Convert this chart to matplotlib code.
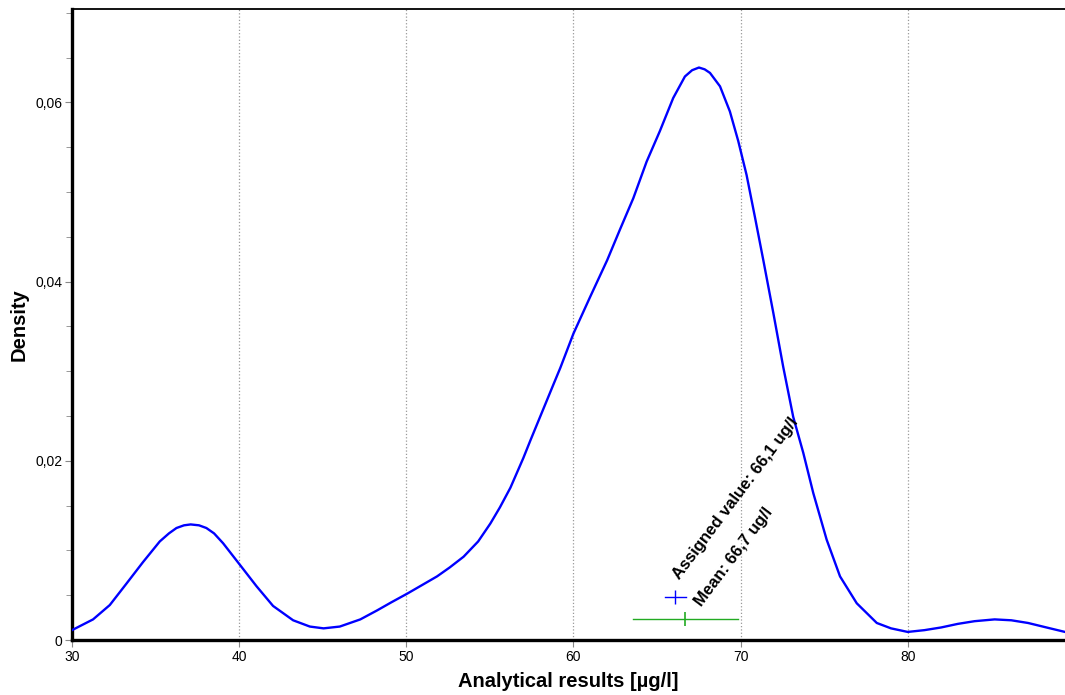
import matplotlib.pyplot as plt
from matplotlib.ticker import FixedLocator, MultipleLocator, FuncFormatter

plt.rcParams['font.family'] = ['Liberation Sans', 'DejaVu Sans']

# density curve
x_vals = [30, 31.26, 32.26, 33.26, 34.25, 35.25, 35.8, 36.25, 36.7, 37.1, 37.6,
          38.04, 38.5, 39.04, 40, 41.04, 42.03, 43.23, 44.23, 45.05, 46.02, 47.25,
          48.25, 49.1, 50.08, 51.84, 52.6, 53.43, 54.3, 55.03, 55.6, 56.23, 57.0,
          57.43, 58.82, 59.22, 60, 61, 62.02, 62.78, 63.58, 64.38, 65.17, 65.97,
          66.67, 67.1, 67.51, 67.85, 68.17, 68.77, 69.36, 69.86, 70.36, 70.86,
          71.36, 71.96, 72.55, 73.15, 73.75, 74.35, 75.15, 75.95, 76.95, 78.15,
          79, 80, 81, 82, 83, 84, 85.2, 86.2, 87.2, 88.3, 89.41]
density = [0.0011, 0.0023, 0.0039, 0.0063, 0.0087, 0.0110, 0.0119, 0.0125, 0.0128,
           0.0129, 0.0128, 0.0125, 0.0119, 0.0108, 0.0085, 0.0060, 0.0038, 0.0022,
           0.0015, 0.0013, 0.0015, 0.0023, 0.0033, 0.0042, 0.0052, 0.0071, 0.0081,
           0.0093, 0.0110, 0.0130, 0.0148, 0.0170, 0.0203, 0.0223, 0.0286, 0.0304,
           0.0342, 0.0383, 0.0424, 0.0458, 0.0493, 0.0534, 0.0568, 0.0605, 0.0629,
           0.0636, 0.0639, 0.0637, 0.0633, 0.0618, 0.0590, 0.0557, 0.0519, 0.0472,
           0.0424, 0.0365, 0.0305, 0.0249, 0.0209, 0.0164, 0.0112, 0.0071, 0.0041,
           0.0019, 0.0013, 0.0009, 0.0011, 0.0014, 0.0018, 0.0021, 0.0023, 0.0022,
           0.0019, 0.0014, 0.0009]

assigned_value = 66.1
assigned_unc = 0.63
mean_value = 66.7
mean_lo, mean_hi = 63.57, 69.84
assigned_y = 0.0048
mean_y = 0.0023

x_ticks = [30, 40, 50, 60, 70, 80]
y_ticks = [0, 0.02, 0.04, 0.06]

fig = plt.figure(figsize=(10.65, 6.95), dpi=100)
ax = fig.add_axes([72 / 1065, 1 - 640 / 695, 1 - 72 / 1065, 630.7 / 695])

ax.plot(x_vals, density, color='#0000FF', linewidth=1.7, zorder=3)

# assigned value marker and mean with its range
ax.plot([assigned_value - assigned_unc, assigned_value + assigned_unc],
        [assigned_y, assigned_y], color='#0000FF', linewidth=1.0, zorder=4)
ax.plot([assigned_value], [assigned_y], marker='|', markersize=10,
        markeredgewidth=1.0, color='#0000FF', zorder=4)
ax.plot([mean_lo, mean_hi], [mean_y, mean_y], color='#22AA22', linewidth=1.0, zorder=4)
ax.plot([mean_value], [mean_y], marker='|', markersize=10,
        markeredgewidth=1.2, color='#22AA22', zorder=4)

ax.text(66.5, 0.0065, 'Assigned value: 66,1 ug/l', rotation=53, rotation_mode='anchor',
        ha='left', va='bottom', fontsize=12, fontweight='bold')
ax.text(67.8, 0.0035, 'Mean: 66,7 ug/l', rotation=53, rotation_mode='anchor',
        ha='left', va='bottom', fontsize=12, fontweight='bold')

ax.set_xlim(30, 89.41)
ax.set_ylim(0, 0.0704)

ax.xaxis.set_major_locator(FixedLocator(x_ticks))
ax.yaxis.set_major_locator(FixedLocator(y_ticks))
ax.yaxis.set_minor_locator(MultipleLocator(0.005))
ax.yaxis.set_major_formatter(FuncFormatter(lambda v, p: '0' if v == 0 else f'{v:.2f}'.replace('.', ',')))

ax.grid(axis='x', color='#999999', linestyle=':', linewidth=0.9)
ax.tick_params(axis='both', which='major', length=5, color='#888888', labelsize=10, pad=2)
ax.tick_params(axis='y', which='minor', length=4, color='#888888')

for side in ['left', 'bottom']:
    ax.spines[side].set_linewidth(2.4)
ax.spines['top'].set_linewidth(1.3)
ax.spines['right'].set_visible(False)

ax.set_xlabel('Analytical results [µg/l]', fontsize=14.5, fontweight='bold', labelpad=6)
ax.set_ylabel('Density', fontsize=14.5, fontweight='bold', labelpad=5)

fig.savefig('out.png', dpi=100)
